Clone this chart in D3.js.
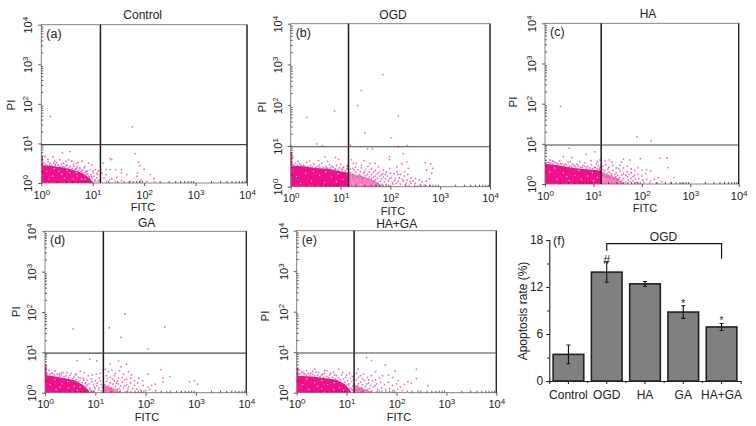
<!DOCTYPE html>
<html>
<head>
<meta charset="utf-8">
<script src="https://cdn.jsdelivr.net/npm/d3@7"></script>
<style>
html, body { margin: 0; padding: 0; background: #fff; }
svg { display: block; }
text { font-family: "Liberation Sans", Arial, sans-serif; fill: #222; }
</style>
</head>
<body>
<div id="chart"></div>
<script>
// flow panels: every value is log10(intensity), [FITC, PI]
const titles = ['Control', 'OGD', 'HA', 'GA', 'HA+GA'];
const tags = ['(a)', '(b)', '(c)', '(d)', '(e)'];
const gateX = [1.15, 1.16, 1.16, 1.16, 1.15];
const gateY = [0.97, 0.98, 0.97, 0.98, 0.98];

// the solid part of each cloud, traced by eye
const coreA = [[0,0],[0,.68],[.03,.68],[.03,.45],[.2,.43],[.4,.4],[.6,.34],[.75,.28],[.85,.21],[.95,.11],[1.02,0]];
const coreB = [[0,0],[0,.85],[.03,.85],[.03,.52],[.25,.5],[.5,.46],[.75,.44],[1,.38],[1.16,.34],[1.16,0]];
const coreC = [[0,0],[0,.55],[.03,.55],[.03,.5],[.3,.46],[.6,.4],[.85,.37],[1.05,.35],[1.16,.33],[1.16,0]];
const coreD = [[0,0],[0,.7],[.03,.7],[.03,.44],[.2,.4],[.4,.36],[.6,.3],[.75,.2],[.85,.08],[.9,0]];
const coreE = [[0,0],[0,.62],[.03,.62],[.03,.42],[.3,.4],[.55,.36],[.8,.32],[.95,.22],[1.05,.1],[1.1,0]];

const lightB = [[1.16,0],[1.16,.34],[1.3,.3],[1.5,.24],[1.7,.14],[1.85,0]];
const lightC = [[1.16,0],[1.16,.3],[1.35,.22],[1.5,.14],[1.65,0]];
const lightD = [[1.16,0],[1.16,.2],[1.3,.14],[1.45,.06],[1.5,0]];
const lightE = [[1.15,0],[1.15,.2],[1.3,.12],[1.45,.05],[1.5,0]];

const scatterA = [[.18,1.68],[1.77,1.42],[.41,.76],[.56,.8],[.23,.66],[.13,.6],[.07,.67],[.36,.59],[.53,.59],[.17,.5],[.3,.52],[.43,.5],[.59,.55],[.69,.49],[.79,.55],[.92,.5],[.98,.45],[.85,.42],[.75,.39],[.95,.34],[1.05,.34],[.88,.29],[1.01,.25],[1.09,.21],[.98,.17],[1.08,.13],[1.13,.08],[1.05,.08],[.92,.17],[.82,.21],[1.11,.31],[.27,.47],[.49,.44],[.63,.42],[.68,.36],[.8,.33],[.9,.23],
  [.04,.5],[.09,.47],[.12,.44],[.16,.46],[.2,.45],[.24,.5],[.27,.43],[.33,.46],[.36,.42],[.39,.47],[.42,.41],[.46,.4],[.5,.45],[.53,.38],[.56,.42],[.6,.37],[.63,.47],[.66,.35],[.7,.41],[.72,.32],[.75,.36],[.78,.3],[.8,.25],[.83,.38],[.85,.27],[.87,.22],[.9,.3],[.93,.15],[.96,.22],[.99,.12],[1,.3],[1.02,.17],[1.04,.05],[.97,.04],[1.08,.25],[1.1,.05],[.26,.55],[.48,.55],[.13,.54],[.72,.52],
  [1.34,.62],[1.37,.59],[1.2,.5],[1.82,.74],[1.89,.53],[1.92,.44],[2,.35],[1.87,.25],[1.86,.17],[1.26,.34],[1.34,.34],[1.44,.34],[1.56,.34],[1.66,.21],[1.56,.25],[1.26,.21],[1.22,.13],[1.37,.11],[1.47,.14],[1.56,.06],[1.73,.04],[1.95,.08],[2.12,.22],[2.19,.11],[1.92,.04],[2.05,.04],[1.27,.04],[1.44,.04],[1.18,.25],[2.2,.03],[1.33,.08]];

const scatterB = [[.32,1.7],[.88,1.86],[1.34,1.99],[1.42,2.36],[1.85,2.75],[2.16,1.74],[1.49,1.32],[2.01,1.2],[.52,1.05],[.64,1.01],[0,1.02],[1.2,1.02],[1.54,.93],[1.64,.93],[2.16,.98],[2.34,1.01],[2.26,.81],[1.98,.74],[1.98,.67],[1.47,.64],[1.59,.57],[.69,.74],[.9,.72],[.96,.67],[.05,.72],[.56,.64],[2.7,.59],[2.81,.56],[2.85,.45],[2.73,.41],[2.83,.33],[2.33,.61],[2.23,.56],[2.13,.49],[2.36,.45],[2.29,.37],[2.13,.37],[1.99,.45],[1.86,.41],[1.76,.49],[1.69,.57],[1.42,.53],[1.32,.57],[1.22,.66],[1.26,.57],
  [.05,.55],[.1,.58],[.18,.56],[.26,.53],[.32,.6],[.4,.52],[.47,.56],[.55,.5],[.62,.58],[.7,.5],[.78,.54],[.85,.48],[.92,.52],[.98,.46],[1.02,.42],[.9,.44],[1.06,.48],[.8,.46],[.72,.46],[1.1,.4],
  [.07,.5],[.14,.53],[.21,.52],[.29,.5],[.35,.5],[.43,.48],[.51,.48],[.58,.46],[.66,.46],[.74,.44],[.82,.5],[.88,.42],[.95,.42],[1.04,.45],[1.09,.36],[1.13,.44],[1.14,.52],[1,.55],[.38,.63],[.15,.62],[.74,.62],[.58,.53],
  [1.13,.5],[1.2,.43],[1.25,.45],[1.3,.48],[1.35,.42],[1.42,.46],[1.5,.42],[1.55,.5],[1.62,.44],[1.7,.4],[1.78,.36],[1.85,.32],[1.92,.36],[2,.33],[2.08,.32],[2.15,.3],[2.2,.3],[2.28,.26],[2.35,.3],[2.42,.22],[2.5,.2],[2.58,.16],[2.64,.12],[2.72,.14],[2.78,.2],
  [1.2,.35],[1.25,.3],[1.3,.36],[1.38,.3],[1.46,.33],[1.54,.3],[1.62,.3],[1.7,.26],[1.78,.26],[1.86,.24],[1.94,.26],[2.02,.22],[2.1,.2],[2.18,.22],[2.26,.14],[2.34,.16],[2.42,.08],[2.5,.08],[2.6,.05],[2.68,.04],[2.8,.03],[1.8,.14],[1.88,.12],[1.96,.14],[2.04,.1],[2.12,.08],[2.2,.06],[2.3,.05],[1.7,.17],[1.62,.2],[1.75,.08],[1.83,.05],[1.92,.06],[2,.03],[2.08,.15],[2.16,.13],[1.72,.03],[2.38,.03],[2.46,.14],[1.58,.24],[1.4,.26],[1.66,.13],[2.55,.02],
  [1.18,.27],[1.23,.24],[1.34,.25],[1.44,.22],[1.5,.27],[1.56,.18],[1.66,.23],[1.74,.21],[1.82,.19],[1.9,.19],[1.98,.2],[2.06,.06],[1.17,.39],[1.28,.41],[1.4,.37],[1.48,.37],[1.58,.36],[1.66,.36],[1.74,.32],[1.82,.29],[1.9,.3],[2.24,.18],[2.32,.1],[2.4,.13]];

const scatterC = [[.32,1.93],[1.9,1.17],[2.19,1.08],[.5,.89],[1.03,.8],[.85,.74],[.55,.66],[.38,.68],[2.38,.65],[2.52,.65],[2.54,.41],[2.67,.16],[2.59,.03],[2.83,.02],[1.97,.63],[1.75,.6],[1.62,.62],[1.58,.55],[1.38,.55],[1.33,.6],[1.24,.58],[1.14,.6],[1.08,.56],[.95,.58],[.72,.55],[.1,.6],[.18,.56],[.25,.52],[.3,.58],[.42,.5],[.48,.54],[.6,.46],[.66,.5],[.78,.46],[.88,.44],[.96,.48],[1.02,.42],[1.1,.46],[1.13,.38],[.12,.52],[.35,.5],[.55,.44],[.74,.42],[.92,.4],[1.08,.38],
  [.06,.54],[.09,.52],[.16,.5],[.21,.53],[.27,.48],[.32,.51],[.39,.47],[.45,.47],[.51,.44],[.57,.5],[.63,.43],[.69,.46],[.77,.41],[.82,.44],[.86,.4],[.98,.38],[1.04,.41],[1.12,.36],[1.14,.42],[.15,.58],[.52,.56],[.82,.53],[1.06,.5],
  [1.2,.44],[1.26,.48],[1.32,.42],[1.4,.46],[1.47,.4],[1.55,.47],[1.62,.4],[1.7,.44],[1.78,.38],[1.85,.34],[1.92,.4],[2,.34],[2.1,.36],[2.18,.32],[2.08,.26],[2,.2],[1.92,.25],[1.85,.22],[1.78,.28],[1.7,.3],[1.62,.25],[1.55,.32],[1.47,.28],[1.4,.34],[1.32,.3],[1.24,.34],[1.2,.24],[1.3,.2],[1.38,.22],[1.46,.18],[1.54,.16],[1.62,.14],[1.7,.18],[1.78,.14],[1.86,.12],[1.94,.14],[2.02,.1],[2.1,.12],[2.18,.08],[2.26,.12],[2.34,.16],[2.42,.06],[2.3,.03],[2.16,.03],[2.04,.04],[1.9,.04],[1.76,.06],[1.66,.04],[1.56,.06],[1.48,.1],
  [1.18,.2],[1.22,.29],[1.26,.18],[1.28,.26],[1.34,.16],[1.36,.26],[1.43,.14],[1.44,.24],[1.5,.22],[1.52,.12],[1.58,.22],[1.6,.09],[1.67,.22],[1.72,.1],[1.74,.24],[1.82,.18],[1.82,.07],[1.2,.36],[1.3,.37],[1.52,.38]];

const scatterD = [[.56,1.58],[1.59,1.95],[1.28,1.61],[1.51,1.37],[2.38,1.63],[2.04,1.08],[.64,.79],[.89,.83],[1.03,.79],[1.46,.79],[1.29,.71],[1.62,.71],[1.51,.64],[2.04,.46],[2.3,.57],[2.48,.4],[2.87,.27],[2.97,.3],[3.03,.21],[2.34,.36],[2.35,.27],[2.19,.21],[2.42,.02],[.08,.55],[.14,.5],[.2,.54],[.28,.47],[.36,.5],[.44,.5],[.52,.48],[.6,.44],[.7,.53],[.78,.5],[.86,.42],[.94,.44],[1.02,.46],[1.1,.48],[.66,.38],[.76,.36],[.84,.32],[.92,.34],[1,.3],[1.08,.36],[.8,.24],[.88,.22],[.96,.2],[1.04,.24],[1.12,.2],[.9,.12],[1,.1],[1.08,.12],[1.12,.05],[.98,.04],[.92,.05],
  [.05,.48],[.1,.46],[.15,.47],[.19,.44],[.24,.46],[.29,.42],[.33,.45],[.38,.4],[.42,.42],[.47,.37],[.5,.43],[.55,.35],[.58,.39],[.62,.33],[.67,.28],[.7,.36],[.74,.25],[.77,.31],[.81,.16],[.84,.2],[.89,.08],[.93,.27],[.98,.14],[1.03,.17],[1.06,.07],[1.1,.29],[1.14,.13],[.62,.46],[.32,.5],[.93,.03],
  [1.2,.58],[1.26,.52],[1.33,.56],[1.4,.48],[1.48,.54],[1.56,.46],[1.66,.52],[1.72,.44],[1.22,.42],[1.3,.38],[1.38,.42],[1.46,.36],[1.54,.38],[1.62,.34],[1.7,.36],[1.78,.3],[1.86,.36],[1.94,.3],[1.22,.28],[1.3,.24],[1.38,.3],[1.46,.22],[1.54,.26],[1.62,.2],[1.7,.24],[1.78,.18],[1.84,.24],[1.95,.18],[2.05,.14],[2.12,.18],[1.24,.14],[1.32,.12],[1.4,.16],[1.48,.1],[1.56,.12],[1.65,.08],[1.74,.1],[1.82,.08],[1.9,.06],[2,.05],[2.08,.08],[2.2,.05],[1.2,.06],[1.35,.04],[1.5,.04],[1.64,.03],
  [1.19,.2],[1.27,.18],[1.35,.21],[1.42,.24],[1.5,.17],[1.58,.17],[1.66,.14],[1.24,.35],[1.34,.34],[1.44,.29],[1.58,.31],[1.28,.08],[1.44,.08]];

const scatterE = [[1.4,.87],[1.5,.8],[1.78,.68],[1.23,.58],[1.97,.53],[2.4,.58],[2.4,.35],[2.63,.17],[2.43,.04],[2.23,.27],[.05,.56],[.12,.52],[.2,.55],[.28,.48],[.36,.58],[.44,.5],[.52,.46],[.6,.54],[.68,.48],[.76,.44],[.84,.58],[.92,.5],[1,.44],[1.06,.48],[1.12,.4],[.16,.46],[.42,.44],[.6,.4],[.72,.38],[.84,.37],[.94,.34],[1.02,.3],[1.1,.28],[1.04,.2],[1.12,.16],[1.07,.12],[1.12,.06],
  [.06,.46],[.09,.5],[.14,.47],[.19,.44],[.23,.48],[.27,.43],[.32,.46],[.36,.42],[.39,.5],[.47,.4],[.5,.44],[.54,.38],[.56,.48],[.64,.37],[.66,.44],[.74,.5],[.78,.35],[.8,.42],[.88,.32],[.9,.44],[.97,.27],[.98,.38],[1.05,.22],[1.08,.36],[1.14,.22],[1.14,.32],[1.1,.1],[1,.18],[.32,.53],[.56,.55],
  [1.2,.48],[1.28,.42],[1.34,.46],[1.42,.38],[1.5,.42],[1.58,.52],[1.66,.36],[1.72,.42],[1.84,.44],[1.92,.38],[2.04,.3],[1.2,.32],[1.28,.26],[1.36,.3],[1.44,.24],[1.52,.3],[1.6,.22],[1.68,.26],[1.76,.2],[1.84,.26],[1.92,.18],[2,.22],[2.08,.14],[2.16,.2],[2.3,.24],[1.22,.16],[1.3,.12],[1.38,.16],[1.46,.1],[1.54,.14],[1.62,.08],[1.7,.12],[1.78,.08],[1.86,.1],[1.94,.06],[2.02,.08],[2.12,.05],[2.22,.04],[1.2,.06],[1.34,.04],[1.5,.04],[1.66,.03],
  [1.24,.22],[1.32,.2],[1.4,.22],[1.48,.18],[1.24,.38],[1.32,.34],[1.44,.32],[1.58,.32],[1.26,.08],[1.42,.07],[1.57,.18]];

// pale flecks inside the solid part
const flecksA = [[.1,.3],[.22,.18],[.34,.3],[.45,.12],[.55,.26],[.62,.1],[.7,.18],[.78,.1],[.4,.22],[.15,.1],[.85,.1],[.5,.32],[.25,.36],[.68,.26]];
const flecksB = [[.12,.25],[.3,.33],[.42,.14],[.58,.28],[.68,.1],[.82,.24],[.92,.12],[1.05,.18],[1.25,.1],[1.4,.06],[.2,.08],[1.32,.15],[.45,.38],[.7,.36],[.95,.32],[1.22,.24]];
const flecksC = [[.1,.3],[.25,.12],[.38,.28],[.5,.08],[.62,.22],[.75,.12],[.88,.2],[1,.08],[1.08,.16],[.45,.18],[.2,.4],[.7,.34],[.98,.28],[1.25,.12]];
const flecksD = [[.1,.2],[.22,.08],[.34,.22],[.46,.12],[.58,.16],[.64,.06],[.3,.14],[.2,.32],[.45,.28],[.7,.14]];
const flecksE = [[.12,.2],[.24,.08],[.36,.24],[.5,.1],[.62,.2],[.74,.08],[.86,.12],[.42,.16],[.94,.06],[.2,.34],[.5,.3],[.75,.24]];

// bar panel
const groups = ['Control', 'OGD', 'HA', 'GA', 'HA+GA'];
const rates = [3.4, 13.9, 12.4, 8.8, 6.9];
const errors = [1.2, 1.3, 0.3, 0.8, 0.45];
const marks = ['', '#', '', '*', '*'];
const rateTicks = [0, 6, 12, 18];
const rateMinorTicks = [3, 9, 15];
const bracketLow = 15.6;
const bracketHigh = 17.55;

const cores = [coreA, coreB, coreC, coreD, coreE];
const lights = [[], lightB, lightC, lightD, lightE];
const scatters = [scatterA, scatterB, scatterC, scatterD, scatterE];
const flecks = [flecksA, flecksB, flecksC, flecksD, flecksE];

// where each panel and its labels sit on the page
const boxes = [
  {l: 41.3, r: 247, t: 24.7, b: 183, titleX: 142.7, titleY: 19, fitcX: 143, fitcY: 211, piX: 15, piY: 105},
  {l: 290.7, r: 490, t: 23.7, b: 186.7, titleX: 393, titleY: 19, fitcX: 393, fitcY: 214.5, piX: 265.7, piY: 107},
  {l: 545, r: 738.7, t: 23.3, b: 184, titleX: 648, titleY: 18.3, fitcX: 645, fitcY: 212, piX: 516.7, piY: 102},
  {l: 45, r: 246.3, t: 231.3, b: 392.7, titleX: 146.7, titleY: 227, fitcX: 147, fitcY: 420.7, piX: 20, piY: 311.7},
  {l: 296.7, r: 496.3, t: 230.7, b: 392.7, titleX: 396.7, titleY: 227.7, fitcX: 399, fitcY: 420.7, piX: 269, piY: 316}
];

const pink = '#f0108c';

const svg = d3.select('#chart').append('svg')
  .attr('width', 756)
  .attr('height', 426);

const majors = [0, 1, 2, 3, 4];
const minors = d3.range(0, 4).flatMap(d => [2, 3, 4, 5, 6, 7, 8, 9].map(k => d + Math.log10(k)));

titles.forEach((title, i) => {
  const box = boxes[i];
  const x = d3.scaleLinear().domain([0, 4]).range([box.l, box.r]);
  const y = d3.scaleLinear().domain([0, 4]).range([box.b, box.t]);
  const g = svg.append('g');
  const line = d3.line().x(d => x(d[0])).y(d => y(d[1]));

  if (lights[i].length) {
    g.append('path').attr('d', line(lights[i]) + 'Z').attr('fill', pink).attr('opacity', 0.55);
  }
  g.append('path').attr('d', line(cores[i]) + 'Z').attr('fill', pink);

  g.selectAll('circle.dot')
    .data(scatters[i])
    .join('circle')
    .attr('class', 'dot')
    .attr('cx', d => x(d[0]))
    .attr('cy', d => y(d[1]))
    .attr('r', 0.9)
    .attr('fill', '#ee3a9f')
    .attr('opacity', 0.75);

  g.selectAll('circle.fleck')
    .data(flecks[i])
    .join('circle')
    .attr('class', 'fleck')
    .attr('cx', d => x(d[0]))
    .attr('cy', d => y(d[1]))
    .attr('r', 0.7)
    .attr('fill', '#fbc4e2');

  // frame
  g.append('rect')
    .attr('x', box.l).attr('y', box.t)
    .attr('width', box.r - box.l).attr('height', box.b - box.t)
    .attr('fill', 'none').attr('stroke', '#777').attr('stroke-width', 0.9);
  g.append('line')
    .attr('x1', box.r).attr('x2', box.r).attr('y1', box.t).attr('y2', box.b)
    .attr('stroke', '#222').attr('stroke-width', 1.3);

  // quadrant gates
  g.append('line')
    .attr('x1', x(gateX[i])).attr('x2', x(gateX[i])).attr('y1', box.t).attr('y2', box.b)
    .attr('stroke', '#1a1a1a').attr('stroke-width', 1.5);
  g.append('line')
    .attr('x1', box.l).attr('x2', box.r).attr('y1', y(gateY[i])).attr('y2', y(gateY[i]))
    .attr('stroke', '#444').attr('stroke-width', 1.1);

  // axes, minor ticks point inwards
  const minorBottom = g.append('g').attr('transform', `translate(0,${box.b})`)
    .call(d3.axisBottom(x).tickValues(minors).tickSize(-2).tickFormat(''));
  const minorLeft = g.append('g').attr('transform', `translate(${box.l},0)`)
    .call(d3.axisLeft(y).tickValues(minors).tickSize(-2).tickFormat(''));
  const bottom = g.append('g').attr('transform', `translate(0,${box.b})`)
    .call(d3.axisBottom(x).tickValues(majors).tickSize(3).tickFormat(''));
  const left = g.append('g').attr('transform', `translate(${box.l},0)`)
    .call(d3.axisLeft(y).tickValues(majors).tickSize(3).tickFormat(''));
  [minorBottom, minorLeft, bottom, left].forEach(a => {
    a.select('.domain').remove();
    a.selectAll('.tick line').attr('stroke', '#333').attr('stroke-width', 0.8);
  });

  bottom.selectAll('.tick').each(function (d) {
    const t = d3.select(this).append('text')
      .attr('y', 15.5).attr('text-anchor', 'middle').attr('font-size', 11);
    t.append('tspan').text('10');
    t.append('tspan').attr('dy', -4).attr('font-size', 8).text(d);
  });
  left.selectAll('.tick').each(function (d) {
    const t = d3.select(this).append('text')
      .attr('transform', 'translate(-9,0) rotate(-90)')
      .attr('text-anchor', 'middle').attr('font-size', 11);
    t.append('tspan').text('10');
    t.append('tspan').attr('dy', -4).attr('font-size', 8).text(d);
  });

  g.append('text').attr('x', box.titleX).attr('y', box.titleY)
    .attr('text-anchor', 'middle').attr('font-size', 12).text(title);
  g.append('text').attr('x', box.l + 5).attr('y', box.t + 13)
    .attr('font-size', 12.5).text(tags[i]);
  g.append('text').attr('x', box.fitcX).attr('y', box.fitcY)
    .attr('text-anchor', 'middle').attr('font-size', 11).text('FITC');
  g.append('text')
    .attr('transform', `translate(${box.piX},${box.piY}) rotate(-90)`)
    .attr('text-anchor', 'middle').attr('font-size', 11.5).text('PI');
});

// (f) bars
const fx = d3.scaleBand().domain(groups).range([549.3, 740.7]).paddingInner(0.2).paddingOuter(0.1);
const fy = d3.scaleLinear().domain([0, 18]).range([381, 240]);
const f = svg.append('g');

f.selectAll('rect')
  .data(groups)
  .join('rect')
  .attr('x', d => fx(d))
  .attr('y', (d, i) => fy(rates[i]))
  .attr('width', fx.bandwidth())
  .attr('height', (d, i) => fy(0) - fy(rates[i]))
  .attr('fill', '#808080')
  .attr('stroke', '#222')
  .attr('stroke-width', 1.6);

const mid = d => fx(d) + fx.bandwidth() / 2;
f.selectAll('path.err')
  .data(groups)
  .join('path')
  .attr('class', 'err')
  .attr('d', (d, i) => {
    const hi = fy(rates[i] + errors[i]);
    const lo = fy(rates[i] - errors[i]);
    const c = mid(d);
    return `M${c - 2},${hi}H${c + 2}M${c},${hi}V${lo}M${c - 2},${lo}H${c + 2}`;
  })
  .attr('fill', 'none')
  .attr('stroke', '#111')
  .attr('stroke-width', 1.1);

f.selectAll('text.mark')
  .data(groups)
  .join('text')
  .attr('class', 'mark')
  .attr('x', d => mid(d))
  .attr('y', (d, i) => fy(rates[i] + errors[i]))
  .attr('dy', (d, i) => marks[i] === '#' ? 2 : 1)
  .attr('text-anchor', 'middle')
  .attr('font-size', (d, i) => marks[i] === '#' ? 13 : 10)
  .text((d, i) => marks[i]);

const fBottom = f.append('g').attr('transform', 'translate(0,381)')
  .call(d3.axisBottom(fx).tickSize(3).tickPadding(6));
const fLeft = f.append('g').attr('transform', 'translate(549.3,0)')
  .call(d3.axisLeft(fy).tickValues(rateTicks).tickSize(3).tickPadding(3));
const fMinorLeft = f.append('g').attr('transform', 'translate(549.3,0)')
  .call(d3.axisLeft(fy).tickValues(rateMinorTicks).tickSize(2).tickFormat(''));
fMinorLeft.select('.domain').remove();

// short ticks between the bars
f.selectAll('line.between')
  .data(groups.slice(1))
  .join('line')
  .attr('class', 'between')
  .attr('x1', d => fx(d) - fx.step() * fx.paddingInner() / 2)
  .attr('x2', d => fx(d) - fx.step() * fx.paddingInner() / 2)
  .attr('y1', fy(0))
  .attr('y2', fy(0) + 2)
  .attr('stroke', '#222')
  .attr('stroke-width', 1);

[fBottom, fLeft, fMinorLeft].forEach(a => {
  a.selectAll('text').attr('font-size', 12).attr('font-family', null);
  a.selectAll('line, .domain').attr('stroke', '#222').attr('stroke-width', 1.1);
});

f.append('text').attr('x', 553).attr('y', 244.5).attr('font-size', 12.5).text('(f)');
f.append('text')
  .attr('transform', `translate(527,311) rotate(-90)`)
  .attr('text-anchor', 'middle').attr('font-size', 12).text('Apoptosis rate (%)');

f.append('path')
  .attr('d', `M${mid('OGD')},${fy(bracketLow) - 8}V${fy(bracketHigh)}H${mid('HA+GA')}V${fy(bracketLow)}`)
  .attr('fill', 'none').attr('stroke', '#111').attr('stroke-width', 1.2);
f.append('text').attr('x', 663.5).attr('y', 241).attr('text-anchor', 'middle')
  .attr('font-size', 12).text('OGD');
</script>
</body>
</html>
